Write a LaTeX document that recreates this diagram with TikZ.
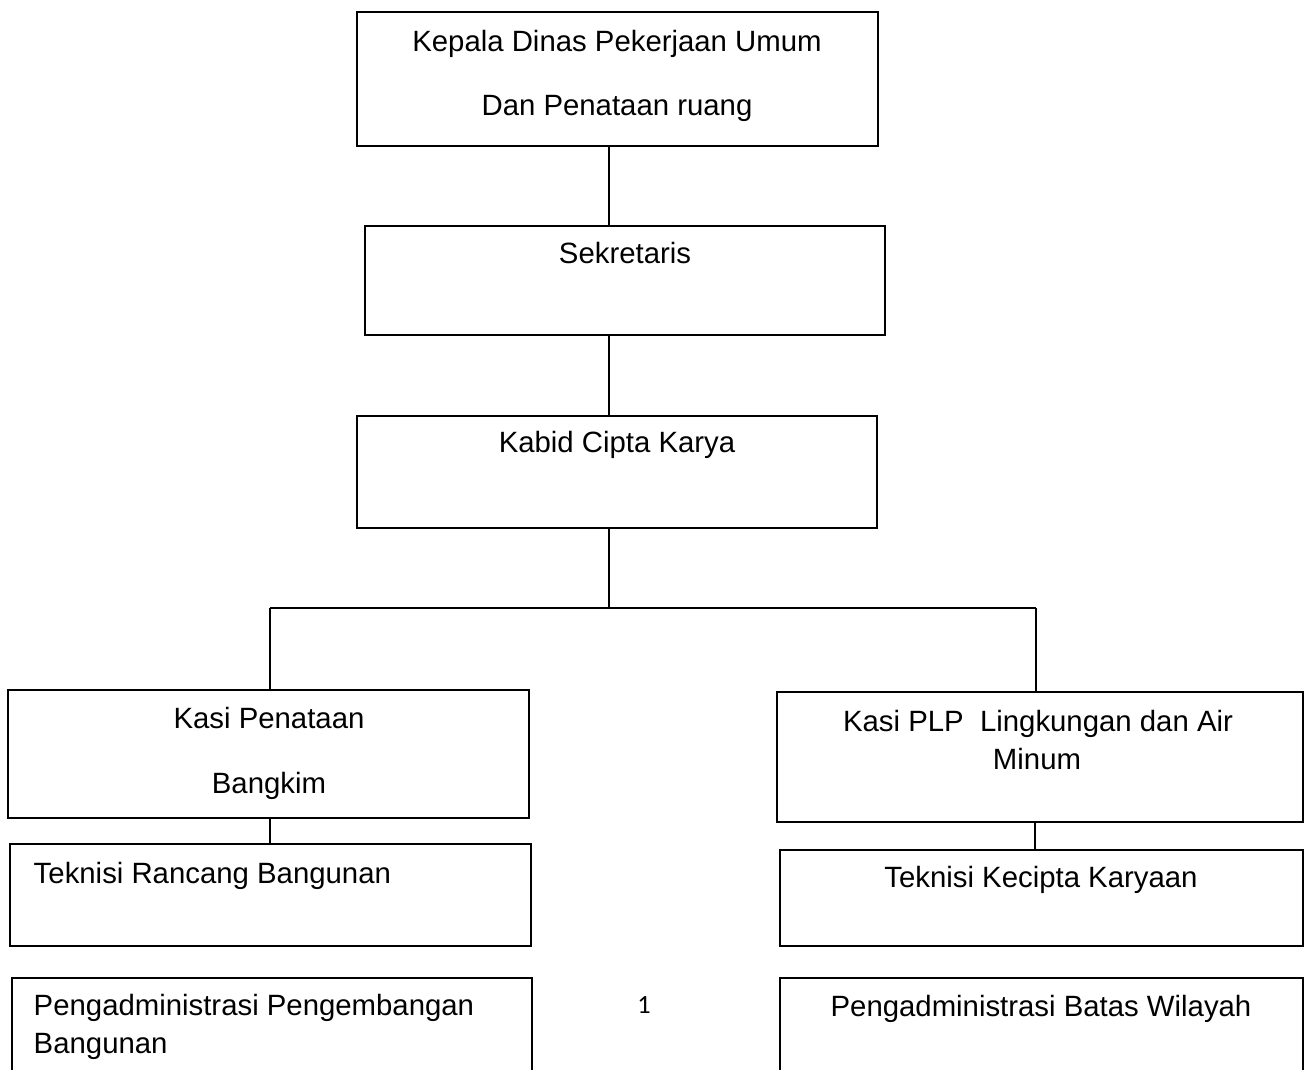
\documentclass[tikz,border=0pt]{standalone}
\usepackage{fontspec}
\setmainfont{Liberation Sans}
\newfontfamily\pagefont{Carlito}
\begin{document}
\begin{tikzpicture}[x=0.02cm, y=-0.02cm, line width=0.85pt,
    box/.style={draw, inner sep=0pt, outer sep=0pt},
    txt/.style={inner sep=0pt, anchor=base, font=\fontsize{16.7pt}{20pt}\selectfont},
    txtl/.style={txt, anchor=base west}]
    \useasboundingbox (0, 0) rectangle (1304, 1070);
    \clip (0, 0) rectangle (1304, 1070);

    \node[box, minimum width=10.42cm, minimum height=2.68cm] (kepala) at (617.5, 79) {};
    \node[box, minimum width=10.4cm, minimum height=2.18cm] (sekretaris) at (625, 280.5) {};
    \node[box, minimum width=10.4cm, minimum height=2.24cm] (kabid) at (617, 472) {};
    \node[box, minimum width=10.42cm, minimum height=2.56cm] (kasipen) at (268.5, 754) {};
    \node[box, minimum width=10.52cm, minimum height=2.6cm] (kasiplp) at (1040, 757) {};
    \node[box, minimum width=10.42cm, minimum height=2.04cm] (tekran) at (270.5, 895) {};
    \node[box, minimum width=10.46cm, minimum height=1.92cm] (tekkec) at (1041.5, 898) {};
    \node[box, minimum width=10.4cm, minimum height=2.64cm] (pengbang) at (272, 1044) {};
    \node[box, minimum width=10.46cm, minimum height=2.64cm] (pengbatas) at (1041.5, 1044) {};

    \node[txt] (kepalaA) at (617, 52) {Kepala Dinas Pekerjaan Umum};
    \node[txt] (kepalaB) at (617, 116) {Dan Penataan ruang};
    \node[txt] (sekretarisA) at (625, 264) {Sekretaris};
    \node[txt] (kabidA) at (617, 453) {Kabid Cipta Karya};
    \node[txt] (kasipenA) at (269, 728) {Kasi Penataan};
    \node[txt] (kasipenB) at (269, 793) {Bangkim};
    \node[txt] (kasiplpA) at (1038, 731) {Kasi PLP\ \ Lingkungan dan Air};
    \node[txt] (kasiplpB) at (1037, 769) {Minum};
    \node[txtl] (tekranA) at (33, 883) {Teknisi Rancang Bangunan};
    \node[txt] (tekkecA) at (1041, 887) {Teknisi Kecipta Karyaan};
    \node[txtl] (pengbangA) at (33, 1015) {Pengadministrasi Pengembangan};
    \node[txtl] (pengbangB) at (33, 1053) {Bangunan};
    \node[txt] (pengbatasA) at (1041, 1016) {Pengadministrasi Batas Wilayah};
    \node[inner sep=0pt, anchor=base, font=\pagefont\fontsize{15pt}{18pt}\selectfont] (halaman) at (644, 1013) {1};

    \coordinate (spine) at (609, 0);
    \coordinate (forkL) at (270, 608);
    \coordinate (forkR) at (1036, 608);

    \draw (kepala.south -| spine) -- (sekretaris.north -| spine);
    \draw (sekretaris.south -| spine) -- (kabid.north -| spine);
    \draw (kabid.south -| spine) -- (spine |- forkL);
    \draw (forkL) -- (forkR);
    \draw (forkL) -- (forkL |- kasipen.north);
    \draw (forkR) -- (forkR |- kasiplp.north);

    \draw (kasipen.south -| forkL) -- (tekran.north -| forkL);
    \draw ([xshift=-0.02cm]kasiplp.south -| forkR) -- ([xshift=-0.02cm]tekkec.north -| forkR);
\end{tikzpicture}
\end{document}
